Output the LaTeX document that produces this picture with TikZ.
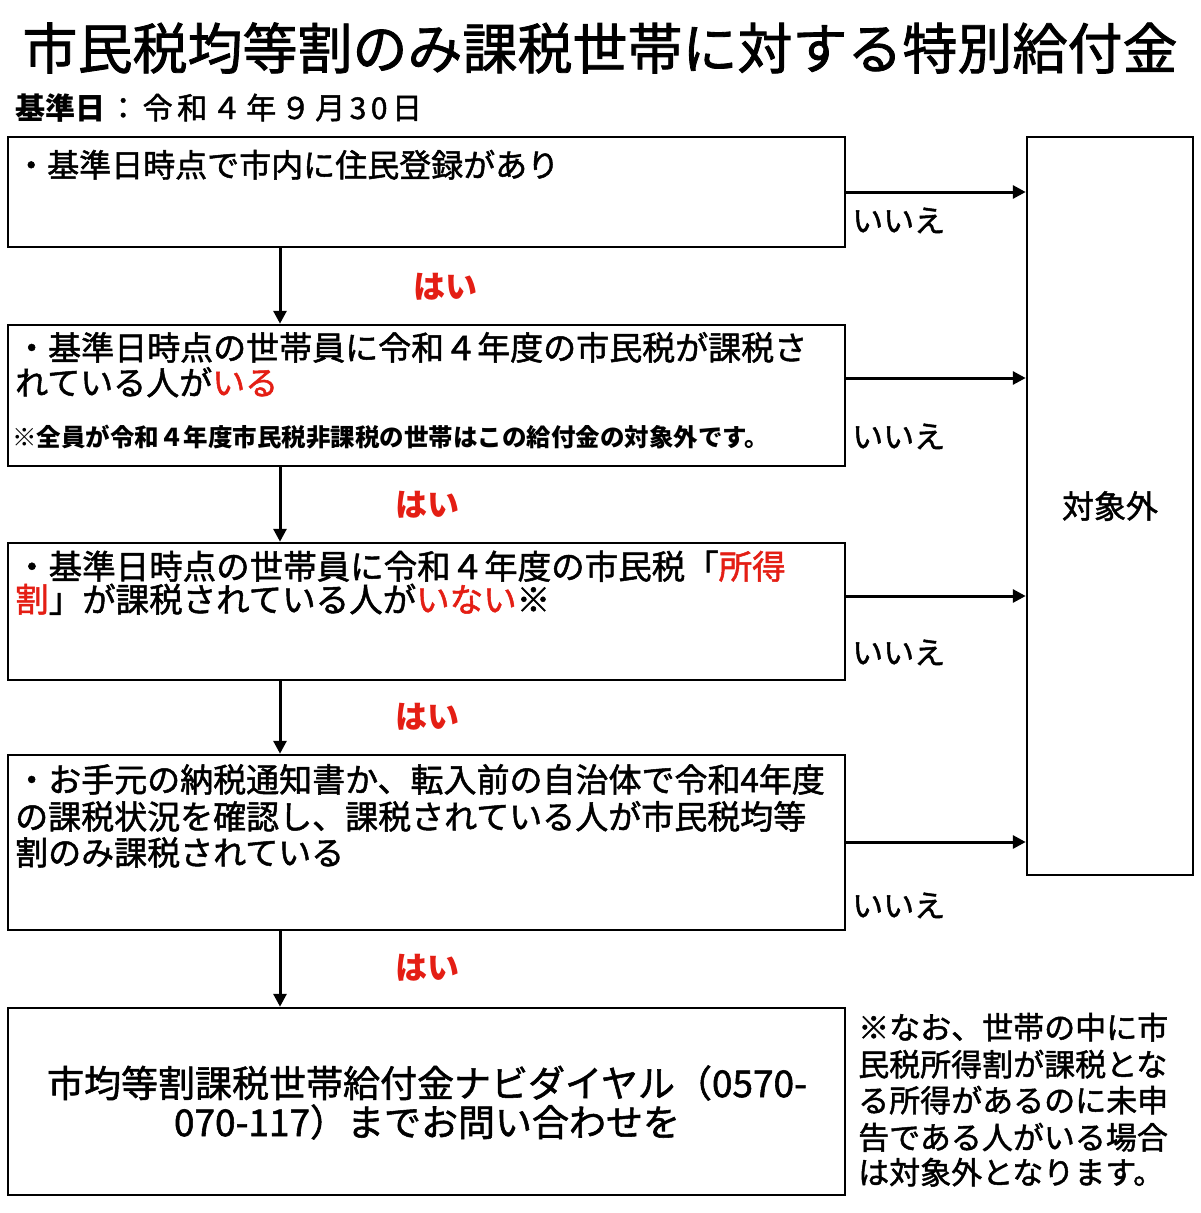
\documentclass[tikz,border=0pt]{standalone}
\usepackage{fontspec}
\setmainfont{Noto Sans CJK JP}
\newfontfamily\med{Noto Sans CJK JP}[FakeBold=1.5]
\usetikzlibrary{arrows.meta}
\definecolor{jred}{RGB}{228,30,20}
\newcommand{\fs}[1]{\fontsize{#1}{#1}\selectfont}
\begin{document}
\begin{tikzpicture}[x=1pt,y=-1pt,
  box/.style={draw=black, line width=2.5pt, inner sep=0pt, rectangle},
  arr/.style={line width=3pt, -{Triangle[length=13pt,width=13pt]}},
  ln/.style={inner sep=0pt, anchor=base west},
  lbl/.style={inner sep=0pt, anchor=base west, font=\med\fs{31}},
  yes/.style={inner sep=0pt, text=jred, font=\bfseries\fs{32}}]
\useasboundingbox (0,0) rectangle (1200,1213);
\fill[white] (0,0) rectangle (1200,1213);
% title
\node[inner sep=0pt, font=\med\fs{55}] (title) at (600,48) {市民税均等割のみ課税世帯に対する特別給付金};
\node[ln, font=\bfseries\fs{30}] (kj) at (15,119) {基準日};
\node[ln, font=\med\fs{30}\addfontfeature{LetterSpace=15}] (kd) at (108,119) {：令和４年９月30日};
% boxes
\node[box, minimum width=837pt, minimum height=110pt] (b1) at (426.5,192) {};
\node[box, minimum width=837pt, minimum height=141pt] (b2) at (426.5,395.5) {};
\node[box, minimum width=837pt, minimum height=137pt] (b3) at (426.5,611.5) {};
\node[box, minimum width=837pt, minimum height=175pt] (b4) at (426.5,842.5) {};
\node[box, minimum width=837pt, minimum height=187pt] (b5) at (426.5,1101.5) {};
\node[box, minimum width=166pt, minimum height=738pt, font=\med\fs{32}] (out) at (1110,506) {対象外};
% box texts
\node[ln, font=\med\fs{32}] (t1) at (15,177) {・基準日時点で市内に住民登録があり};
\node[ln, font=\med\fs{33}] (t2a) at (15,360) {・基準日時点の世帯員に令和４年度の市民税が課税さ};
\node[ln, font=\med\fs{33}] (t2b) at (15,395) {れている人が{\color{jred}いる}};
\node[ln, font=\bfseries\fs{24.5}] (t2c) at (12,446) {※全員が令和４年度市民税非課税の世帯はこの給付金の対象外です。};
\node[ln, font=\med\fs{33.5}] (t3a) at (15,579) {・基準日時点の世帯員に令和４年度の市民税「{\color{jred}所得}};
\node[ln, font=\med\fs{33.5}] (t3b) at (15,612) {{\color{jred}割}」が課税されている人が{\color{jred}いない}※};
\node[ln, font=\med\fs{33}] (t4a) at (15,792) {・お手元の納税通知書か、転入前の自治体で令和4年度};
\node[ln, font=\med\fs{33}] (t4b) at (15,829) {の課税状況を確認し、課税されている人が市民税均等};
\node[ln, font=\med\fs{33}] (t4c) at (15,865) {割のみ課税されている};
\node[inner sep=0pt, font=\med\fs{37}] (t5a) at (427,1083) {市均等割課税世帯給付金ナビダイヤル（0570-};
\node[inner sep=0pt, font=\med\fs{37}] (t5b) at (427,1122) {070-117）までお問い合わせを};
% side note
\node[lbl] (n1) at (858,1039) {※なお、世帯の中に市};
\node[lbl] (n2) at (858,1076) {民税所得割が課税とな};
\node[lbl] (n3) at (858,1112) {る所得があるのに未申};
\node[lbl] (n4) at (858,1149) {告である人がいる場合};
\node[lbl] (n5) at (858,1184) {は対象外となります。};
% no arrows
\coordinate (y1) at (0,192);
\coordinate (y2) at (0,378);
\coordinate (y3) at (0,596);
\coordinate (y4) at (0,842);
\draw[arr] (b1.east |- y1) -- (out.west |- y1);
\draw[arr] (b2.east |- y2) -- (out.west |- y2);
\draw[arr] (b3.east |- y3) -- (out.west |- y3);
\draw[arr] (b4.east |- y4) -- (out.west |- y4);
\node[lbl] (no1) at (852,232) {いいえ};
\node[lbl] (no2) at (852,448) {いいえ};
\node[lbl] (no3) at (852,664) {いいえ};
\node[lbl] (no4) at (852,917) {いいえ};
% yes arrows
\coordinate (xa) at (280,0);
\draw[arr] (b1.south -| xa) -- (b2.north -| xa);
\draw[arr] (b2.south -| xa) -- (b3.north -| xa);
\draw[arr] (b3.south -| xa) -- (b4.north -| xa);
\draw[arr] (b4.south -| xa) -- (b5.north -| xa);
\node[yes] (yes1) at (445,287) {はい};
\node[yes] (yes2) at (427,505) {はい};
\node[yes] (yes3) at (427,717) {はい};
\node[yes] (yes4) at (427,968) {はい};
\end{tikzpicture}
\end{document}
